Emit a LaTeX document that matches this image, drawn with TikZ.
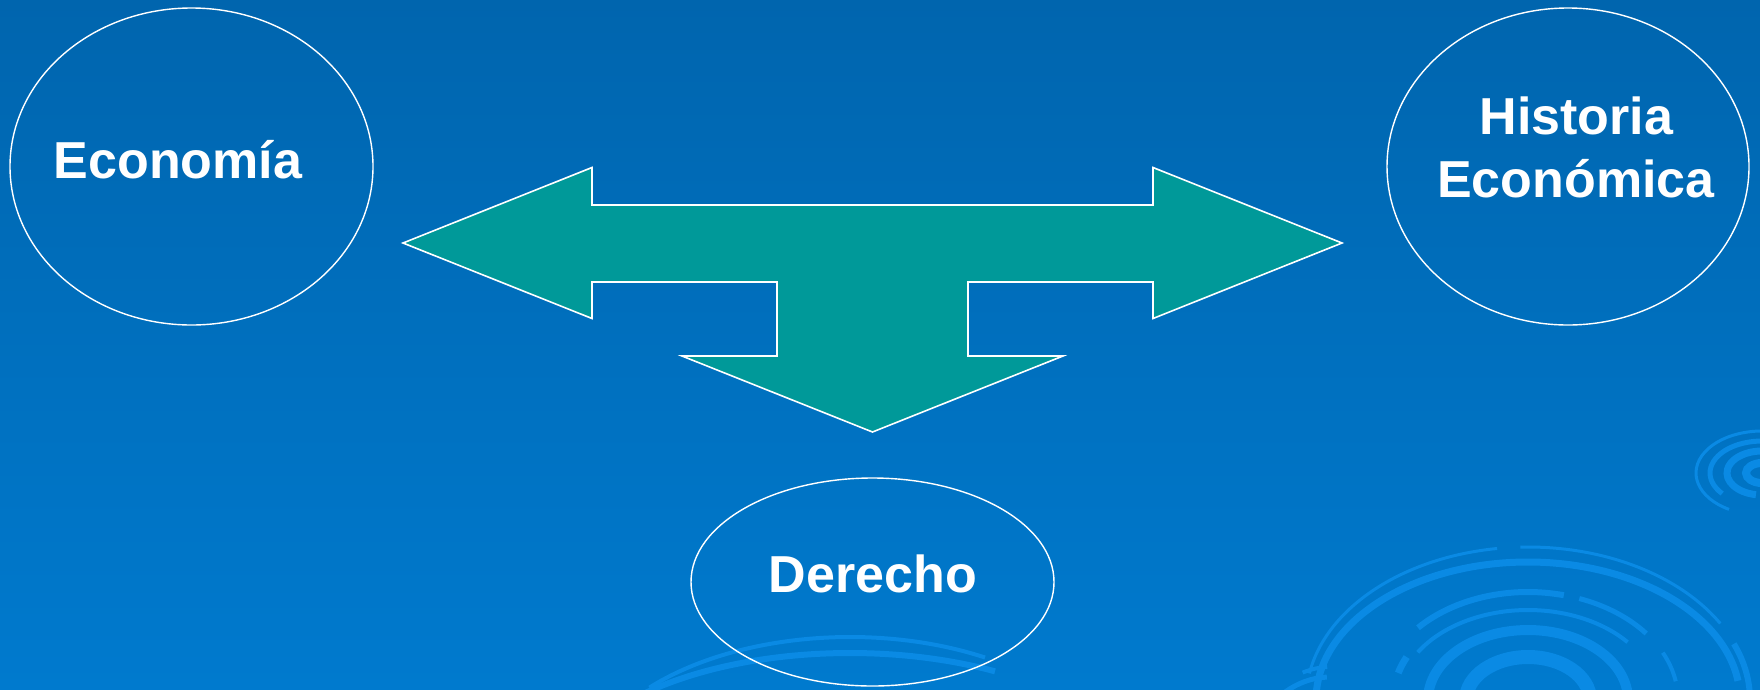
\documentclass[tikz,border=0pt]{standalone}
\usepackage{fontspec}
\setmainfont{Liberation Sans}
\usetikzlibrary{shapes.geometric}
\definecolor{bgtop}{RGB}{0,101,174}
\definecolor{bgbot}{RGB}{0,122,206}
\definecolor{teal}{RGB}{0,153,153}
\definecolor{swirlc}{RGB}{10,138,228}
\newcommand\swarc[7]{\draw[swirl, line width=#7pt] (#1,#2) ++(#5:#3 and #4) arc[start angle=#5, end angle=#6, x radius=#3, y radius=#4];}
\begin{document}
\begin{tikzpicture}[x=1pt,y=-1pt,
  bubble/.style={draw=white, line width=1.4pt, ellipse, inner sep=0pt},
  lbl/.style={text=white, font=\fontsize{52}{63}\selectfont\bfseries, inner sep=0pt, anchor=base},
  swirl/.style={draw=swirlc, line cap=butt},
  bigarrow/.style={draw=white, line width=1.6pt, fill=teal, line join=miter}]
\useasboundingbox (0,0) rectangle (1760,689);
\shade[top color=bgtop, bottom color=bgbot] (0,0) rectangle (1760,689);
% decorative swirls
\begin{scope}
\clip (0,0) rectangle (1760,689);
% big swirl bottom right
\swarc{1528}{700}{222}{153}{190}{262}{3}
\swarc{1528}{700}{222}{153}{268}{330}{3}
\swarc{1528}{700}{222}{150}{338}{360}{6}
\swarc{1528}{700}{212}{138}{182}{352}{7}
\swarc{1528}{700}{148}{108}{222}{284}{6}
\swarc{1528}{700}{150}{108}{290}{322}{5}
\swarc{1528}{700}{150}{108}{334}{350}{4}
\swarc{1528}{700}{135}{98}{196}{206}{7}
\swarc{1528}{700}{130}{90}{212}{320}{4}
\swarc{1528}{700}{100}{70}{180}{360}{10}
\swarc{1528}{700}{62}{43}{180}{360}{14}
\swarc{1528}{700}{250}{130}{355}{365}{6}
% small swirl right
\swarc{1762}{473}{66}{42}{120}{300}{3}
\swarc{1762}{473}{52}{32}{140}{280}{5}
\swarc{1762}{473}{35}{22}{100}{300}{7}
\swarc{1762}{473}{16}{10}{90}{300}{8}
% bottom centre swirl
\swarc{850}{790}{270}{153}{222}{300}{4}
\swarc{850}{790}{290}{137}{205}{300}{6}
\swarc{850}{790}{320}{120}{190}{215}{5}
% faint strokes left of the big swirl
\swarc{1330}{760}{80}{93}{250}{268}{4}
\swarc{1330}{790}{90}{113}{240}{268}{5}
\end{scope}
% ellipses
\node[bubble, minimum width=363pt, minimum height=317pt] (econ) at (191.5,166.5) {};
\node[bubble, minimum width=362pt, minimum height=317pt] (hist) at (1568,166.5) {};
\node[bubble, minimum width=363pt, minimum height=208pt] (der) at (872.5,582) {};
% three-way arrow
\draw[bigarrow] (403,243) -- (592,167.5) -- (592,205) -- (1153,205) -- (1153,167.5)
  -- (1342,243) -- (1153,318.5) -- (1153,282) -- (968,282) -- (968,356) -- (1063,356)
  -- (872.5,432) -- (682,356) -- (777,356) -- (777,282) -- (592,282) -- (592,318.5) -- cycle;
% labels
\node[lbl] (econtxt) at (178,178) {Economía};
\node[lbl] (hist1) at (1576.5,134) {Historia};
\node[lbl] (hist2) at (1576,197.3) {Económica};
\node[lbl] (dertxt) at (873,592.3) {Derecho};
\end{tikzpicture}
\end{document}
